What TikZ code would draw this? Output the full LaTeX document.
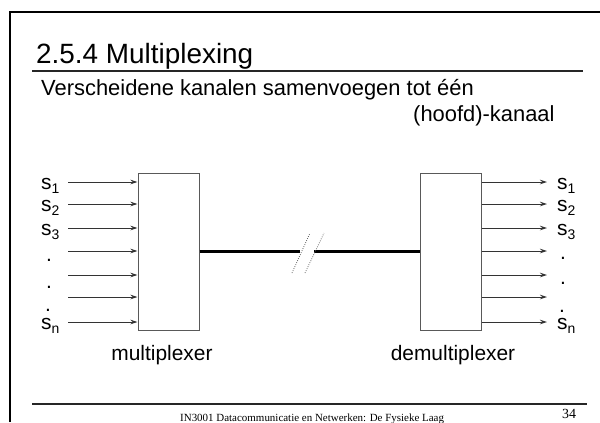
\documentclass[tikz,border=0pt]{standalone}
\usepackage{fontspec}
\setmainfont{Liberation Sans}
\newfontfamily\footfont{Liberation Serif}
\usetikzlibrary{arrows.meta}
\newcommand{\lbl}[1]{\fontsize{21}{21}\selectfont s\raisebox{-0.4ex}{\fontsize{14}{14}\selectfont #1}}
\begin{document}
\begin{tikzpicture}[x=1bp,y=-1bp,
  frameline/.style={line width=2bp},
  rule/.style={line width=1.5bp, black!85},
  box/.style={draw=black!65, line width=1bp, minimum width=61bp, minimum height=157bp, inner sep=0pt},
  sig/.style={line width=0.9bp, black!80, -{Stealth[length=7bp,width=4.5bp]}},
  trunk/.style={line width=3bp, black},
  brk/.style={line width=0.8bp, black!60, dash pattern=on 0.8bp off 1.4bp},
  lab/.style={inner sep=0pt, font=\fontsize{21}{21}\selectfont},
  dotlab/.style={inner sep=0pt, anchor=base, font=\fontsize{21}{21}\selectfont}]
\useasboundingbox (0,0) rectangle (600,422);
% frame
\draw[frameline] (9.5,422) -- (9.5,12) -- (600,12);
\draw[rule] (32,71) -- (583,71);
\draw[rule] (32,404) -- (587,404);
% titles
\node[anchor=base west, inner sep=0pt, font=\fontsize{28}{28}\selectfont] (title) at (36,63) {2.5.4 Multiplexing};
\node[anchor=base west, inner sep=0pt, font=\fontsize{22}{22}\selectfont] (sub1) at (41,95) {Verscheidene kanalen samenvoegen tot één};
\node[anchor=base west, inner sep=0pt, font=\fontsize{22}{22}\selectfont] (sub2) at (413,121) {(hoofd)-kanaal};
% boxes
\node[box] (mux) at (168.5,251.5) {};
\node[box] (demux) at (450.5,251.5) {};
\node[lab] (muxl) at (162,355) {multiplexer};
\node[lab] (demuxl) at (453,355) {demultiplexer};
% trunk
\coordinate (b1) at (300,251.5);
\coordinate (b2) at (314,251.5);
\draw[trunk] (mux.east) -- (b1);
\draw[trunk] (b2) -- (demux.west);
\coordinate (d1a) at (292,273); \coordinate (d1b) at (310,233);
\coordinate (d2a) at (305,273); \coordinate (d2b) at (324,233);
\draw[brk] (d1a) -- (d1b);
\draw[brk] (d2a) -- (d2b);
% inputs / outputs
\foreach \y [count=\i] in {182,204,228,251,275,297,322}{
  \coordinate (in\i) at (68,\y);
  \coordinate (out\i) at (547,\y);
  \draw[sig] (in\i) -- (in\i -| mux.west);
  \draw[sig] (out\i -| demux.east) -- (out\i);
}
% left labels
\node[lab, anchor=base west] (ls1) at (41,189) {\lbl{1}};
\node[lab, anchor=base west] (ls2) at (41,211) {\lbl{2}};
\node[lab, anchor=base west] (ls3) at (41,235) {\lbl{3}};
\node[dotlab] (ld1) at (49,261) {.};
\node[dotlab] (ld2) at (49,288) {.};
\node[dotlab] (ld3) at (48,311) {.};
\node[lab, anchor=base west] (lsn) at (41,329) {\lbl{n}};
% right labels
\node[lab, anchor=base west] (rs1) at (557,189) {\lbl{1}};
\node[lab, anchor=base west] (rs2) at (557,211) {\lbl{2}};
\node[lab, anchor=base west] (rs3) at (557,235) {\lbl{3}};
\node[dotlab] (rd1) at (563,259) {.};
\node[dotlab] (rd2) at (563,284) {.};
\node[dotlab] (rd3) at (562,312) {.};
\node[lab, anchor=base west] (rsn) at (557,329) {\lbl{n}};
% footer
\node[anchor=base west, inner sep=0pt, font=\footfont\fontsize{11}{11}\selectfont] (foot) at (180,421) {IN3001 Datacommunicatie en Netwerken: De Fysieke Laag};
\node[anchor=base west, inner sep=0pt, font=\footfont\fontsize{14}{14}\selectfont] (page) at (562,418) {34};
\end{tikzpicture}
\end{document}
